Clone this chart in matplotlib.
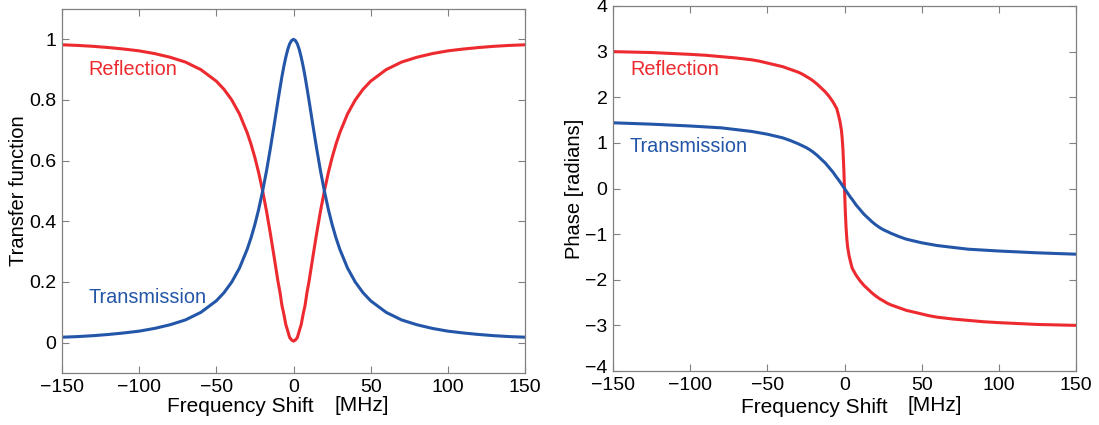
import matplotlib.pyplot as plt
import matplotlib.transforms as mtransforms

# === Data ===
freq_amp = [-150, -140, -130, -120, -110, -100, -90, -80, -70, -60, -50, -45, -40, -35,
            -30, -27.5, -25, -22.5, -20, -17.5, -15, -12.5, -10, -8.75, -7.5, -6.25, -5,
            -3.75, -2.5, -1.25, 0,
            1.25, 2.5, 3.75, 5, 6.25, 7.5, 8.75, 10, 12.5, 15, 17.5, 20, 22.5, 25, 27.5, 30,
            35, 40, 45, 50, 60, 70, 80, 90, 100, 110, 120, 130, 140, 150]
trans_amp = [0.018, 0.020, 0.023, 0.027, 0.032, 0.038, 0.047, 0.059, 0.075, 0.100, 0.138, 0.165,
             0.200, 0.246, 0.308, 0.346, 0.390, 0.441, 0.500, 0.566, 0.640, 0.719, 0.800, 0.839,
             0.877, 0.911, 0.941, 0.966, 0.985, 0.996, 1.000,
             0.996, 0.985, 0.966, 0.941, 0.911, 0.877, 0.839, 0.800, 0.719, 0.640, 0.566, 0.500,
             0.441, 0.390, 0.346, 0.308, 0.246, 0.200, 0.165, 0.138, 0.100, 0.075, 0.059, 0.047,
             0.038, 0.032, 0.027, 0.023, 0.020, 0.018]
refl_amp = [0.982, 0.980, 0.977, 0.973, 0.968, 0.962, 0.953, 0.941, 0.925, 0.900, 0.862, 0.835,
            0.800, 0.754, 0.692, 0.654, 0.610, 0.559, 0.500, 0.434, 0.360, 0.281, 0.200, 0.166,
            0.123, 0.094, 0.060, 0.039, 0.017, 0.009, 0.005,
            0.009, 0.017, 0.039, 0.060, 0.094, 0.123, 0.166, 0.200, 0.281, 0.360, 0.434, 0.500,
            0.559, 0.610, 0.654, 0.692, 0.754, 0.800, 0.835, 0.862, 0.900, 0.925, 0.941, 0.953,
            0.962, 0.968, 0.973, 0.977, 0.980, 0.982]

freq_ph = [-150, -125, -100, -90, -80, -70, -60, -55, -50, -45, -40, -35, -30, -27.5, -25,
           -22.5, -20, -17.5, -15, -12.5, -10, -7.5, -5, -4, -3, -2, -1.5, -1, -0.5, 0,
           0.5, 1, 1.5, 2, 3, 4, 5, 7.5, 10, 12.5, 15, 17.5, 20, 22.5, 25, 27.5, 30, 35, 40,
           45, 50, 55, 60, 70, 80, 90, 100, 125, 150]
trans_ph = [1.44, 1.41, 1.37, 1.35, 1.33, 1.29, 1.25, 1.22, 1.19, 1.15, 1.11, 1.05, 0.98, 0.94,
            0.90, 0.85, 0.79, 0.72, 0.64, 0.56, 0.46, 0.36, 0.24, 0.197, 0.149, 0.100, 0.075,
            0.050, 0.025, 0.0,
            -0.025, -0.050, -0.075, -0.100, -0.149, -0.197, -0.24, -0.36, -0.46, -0.56, -0.64,
            -0.72, -0.79, -0.85, -0.90, -0.94, -0.98, -1.05, -1.11, -1.15, -1.19, -1.22, -1.25,
            -1.29, -1.33, -1.35, -1.37, -1.41, -1.44]
refl_ph = [3.00, 2.98, 2.94, 2.92, 2.89, 2.86, 2.82, 2.79, 2.75, 2.71, 2.67, 2.61, 2.55, 2.51,
           2.46, 2.41, 2.35, 2.28, 2.20, 2.12, 2.02, 1.90, 1.75, 1.62, 1.48, 1.28, 1.10, 0.85,
           0.48, 0.0,
           -0.48, -0.85, -1.10, -1.28, -1.48, -1.62, -1.75, -1.90, -2.02, -2.12, -2.20, -2.28,
           -2.35, -2.41, -2.46, -2.51, -2.55, -2.61, -2.67, -2.71, -2.75, -2.79, -2.82, -2.86,
           -2.89, -2.92, -2.94, -2.98, -3.00]

red = '#ec2a2f'
blue = '#2356a8'
frame = '#808080'

plt.rcParams['font.family'] = ['Liberation Sans', 'DejaVu Sans']

fig = plt.figure(figsize=(10.99, 4.25), dpi=100)
ax1 = fig.add_axes([62 / 1099, 52 / 425, 463 / 1099, 364 / 425])
ax2 = fig.add_axes([613 / 1099, 54 / 425, 463 / 1099, 365 / 425])


def style(ax, fs_x, mhz_x, lab_y):
    ax.set_xlim(-150, 150)
    ax.set_xticks([-150, -100, -50, 0, 50, 100, 150])
    ax.set_xticklabels(['\u2212150', '\u2212100', '\u221250', '0', '50', '100', '150'])
    ax.tick_params(direction='in', top=True, right=True, length=5, width=0.8,
                   color=frame, labelsize=14, labelcolor='black', pad=4)
    for s in ax.spines.values():
        s.set_color(frame)
        s.set_linewidth(0.9)
    # x label is two separate pieces in the reference
    ax.text(fs_x, lab_y, 'Frequency Shift', transform=ax.transAxes,
            ha='center', va='center', fontsize=15)
    ax.text(mhz_x, lab_y + 0.004, '[MHz]', transform=ax.transAxes,
            ha='center', va='center', fontsize=15)


# Left: amplitude
ax1.plot(freq_amp, refl_amp, color=red, lw=2.2)
ax1.plot(freq_amp, trans_amp, color=blue, lw=2.2)
style(ax1, 0.386, 0.648, -0.093)
ax1.set_ylim(-0.1, 1.1)
ax1.set_yticks([0, 0.2, 0.4, 0.6, 0.8, 1])
ax1.set_yticklabels(['0', '0.2', '0.4', '0.6', '0.8', '1'])
ax1.set_ylabel('Transfer function', fontsize=14.5, labelpad=1)
ax1.text(-133, 0.90, 'Reflection', color=red, fontsize=14.3, va='center')
ax1.text(-133, 0.15, 'Transmission', color=blue, fontsize=14.3, va='center')

# Right: phase
ax2.plot(freq_ph, refl_ph, color=red, lw=2.2)
ax2.plot(freq_ph, trans_ph, color=blue, lw=2.2)
style(ax2, 0.434, 0.695, -0.099)
ax2.set_ylim(-4, 4)
ax2.set_yticks([-4, -3, -2, -1, 0, 1, 2, 3, 4])
ax2.set_yticklabels(['\u22124', '\u22123', '\u22122', '\u22121', '0', '1', '2', '3', '4'])
ax2.set_ylabel('Phase [radians]', fontsize=14.5, labelpad=1)
ax2.text(-139, 2.6, 'Reflection', color=red, fontsize=14.3, va='center')
ax2.text(-139, 0.92, 'Transmission', color=blue, fontsize=14.3, va='center')

# nudge the bottom "-4" up a little so it clears "-150"
lab = ax2.get_yticklabels()[0]
lab.set_transform(lab.get_transform() + mtransforms.ScaledTranslation(0, 3 / 72, fig.dpi_scale_trans))

fig.savefig('out.png', dpi=100)
